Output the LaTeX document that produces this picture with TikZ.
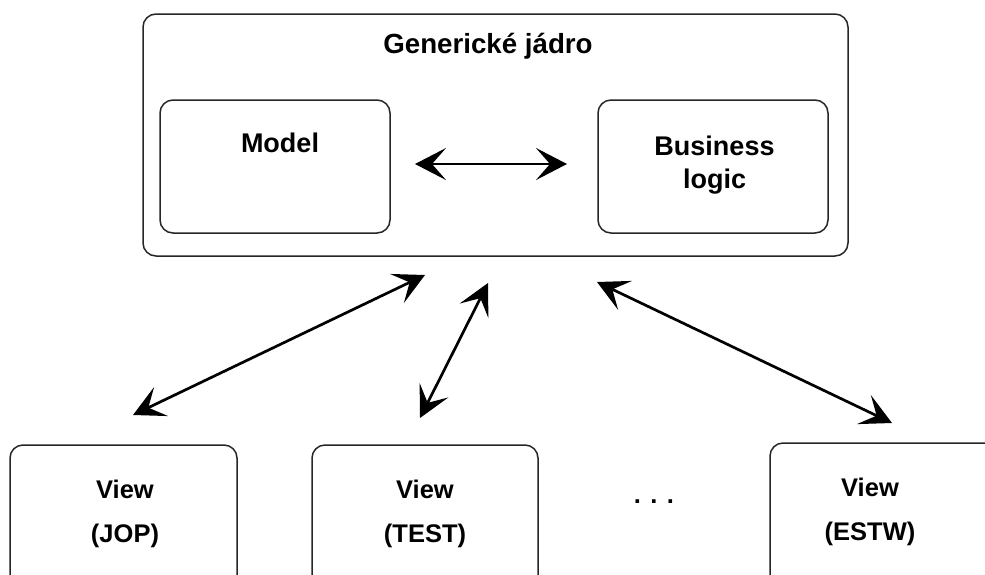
\documentclass[tikz,border=0pt]{standalone}
\usepackage{fontspec}
\setmainfont{Liberation Sans}
\usetikzlibrary{arrows.meta}
\begin{document}
\begin{tikzpicture}[x=1pt,y=-1pt,
  box/.style={draw=black!85,line width=1.5pt,rounded corners=13pt},
  lbl/.style={font=\bfseries\fontsize{27}{33}\selectfont,align=center,inner sep=0pt,anchor=base},
  vlbl/.style={font=\bfseries\fontsize{25.5}{44}\selectfont,align=center,inner sep=0pt,anchor=base},
  link/.style={line width=2.7pt,{Stealth[length=31pt,width=32pt,inset=14pt]}-{Stealth[length=31pt,width=32pt,inset=14pt]}}]
\useasboundingbox (0,0) rectangle (985,574);
% core block with its two parts
\draw[box] (143,14) rectangle (848,256);
\node[lbl,font=\bfseries\fontsize{27.7}{33}\selectfont] (core) at (488,53) {Generické jádro};
\draw[box] (160,100) rectangle (390,233);
\node[lbl] (model) at (280,152) {Model};
\draw[box] (598,100) rectangle (828,233);
% multi-line labels are placed by the baseline of their last line
\node[lbl] (logic) at (714.5,188) {Business\\logic};
\coordinate (m) at (415,164);
\coordinate (l) at (567,164);
\draw[link] (m) -- (l);
% views, cut off at the lower edge
\begin{scope}
\clip (0,0) rectangle (985,574);
\draw[box] (10,445) rectangle (237,600);
\draw[box] (312,445) rectangle (538,600);
\draw[box] (770,443) rectangle (1000,600);
\end{scope}
\node[vlbl] (jop) at (125,542) {View\\(JOP)};
\node[vlbl] (test) at (425,542) {View\\(TEST)};
\node[vlbl] (estw) at (870,540) {View\\(ESTW)};
\node[vlbl] (dots) at (654,503) {. . .};
% connections between core and views
\coordinate (a1) at (133,415);
\coordinate (a2) at (425,275);
\coordinate (b1) at (420,418);
\coordinate (b2) at (488,283);
\coordinate (c1) at (597,282);
\coordinate (c2) at (892,423);
\draw[link] (a1) -- (a2);
\draw[link] (b1) -- (b2);
\draw[link] (c1) -- (c2);
\end{tikzpicture}
\end{document}
